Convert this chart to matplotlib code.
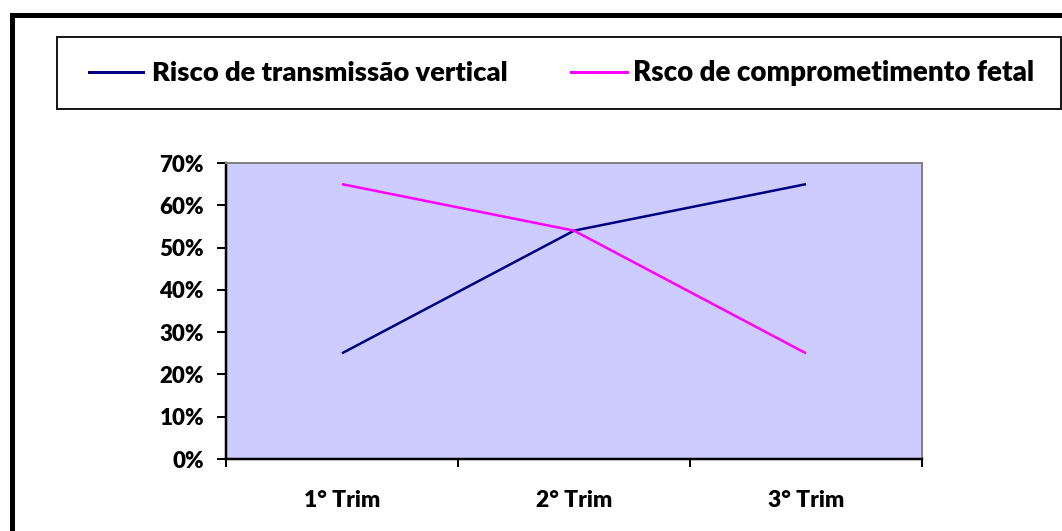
import matplotlib
matplotlib.use("Agg")
import matplotlib.pyplot as plt
from matplotlib.lines import Line2D
from matplotlib.patches import Rectangle
from matplotlib.ticker import FixedLocator, PercentFormatter, NullFormatter

categories = ["1° Trim", "2° Trim", "3° Trim"]
series_names = ["Risco de transmissão vertical", "Rsco de comprometimento fetal"]
transmissao = [0.25, 0.54, 0.65]
comprometimento = [0.65, 0.54, 0.25]
series_colors = ["#000080", "#FF00FF"]
y_ticks = [0.0, 0.1, 0.2, 0.3, 0.4, 0.5, 0.6, 0.7]

W, H = 1062, 531
DPI = 100
plt.rcParams['font.family'] = ['Lato', 'DejaVu Sans']
plt.rcParams['font.weight'] = 'heavy'

fig = plt.figure(figsize=(W / DPI, H / DPI), dpi=DPI)
fig.patch.set_facecolor("white")

def fx(px):
    return px / W

def fy(py):
    return 1 - py / H

px2pt = 72 / DPI

# outer border (top and left visible)
fig.add_artist(Rectangle((fx(11.5), fy(H + 20)), fx(W + 20), (H + 20 - 14.5) / H,
                         transform=fig.transFigure, fill=False, edgecolor="black",
                         linewidth=5 * px2pt, clip_on=False))

# legend box
fig.add_artist(Rectangle((fx(56.5), fy(108.5)), fx(1060.5 - 56.5), (108.5 - 37.5) / H,
                         transform=fig.transFigure, fill=False, edgecolor="#1a1a1a",
                         linewidth=2 * px2pt))

# axes
left, right, top, bottom = 226, 922, 163, 459
ax = fig.add_axes([fx(left), fy(bottom), fx(right - left), (bottom - top) / H])
ax.set_facecolor("#CCCCFF")

xs = list(range(len(categories)))
l1, = ax.plot(xs, transmissao, color=series_colors[0], lw=2.5 * px2pt, solid_capstyle="butt")
l2, = ax.plot(xs, comprometimento, color=series_colors[1], lw=2.5 * px2pt, solid_capstyle="butt")

ax.set_xlim(-0.5, len(categories) - 0.5)
ax.set_ylim(0, 0.7)

ax.xaxis.set_major_locator(FixedLocator([i - 0.5 for i in range(len(categories) + 1)]))
ax.xaxis.set_major_formatter(NullFormatter())
ax.xaxis.set_minor_locator(FixedLocator(xs))
ax.set_xticklabels(categories, minor=True)
ax.tick_params(axis="x", which="major", direction="out", length=8 * px2pt, width=2 * px2pt, color="black")
ax.tick_params(axis="x", which="minor", length=0, pad=31 * px2pt, labelsize=16.5)

ax.set_yticks(y_ticks)
ax.yaxis.set_major_formatter(PercentFormatter(1.0, decimals=0))
ax.tick_params(axis="y", direction="out", length=9 * px2pt, width=2 * px2pt, color="black",
               pad=13 * px2pt, labelsize=16)

for lab in ax.get_xticklabels(minor=True) + ax.get_yticklabels():
    lab.set_fontweight("heavy")

ax.spines["left"].set_color("black")
ax.spines["bottom"].set_color("black")
ax.spines["left"].set_linewidth(2.5 * px2pt)
ax.spines["bottom"].set_linewidth(2.5 * px2pt)
ax.spines["top"].set_color("#808080")
ax.spines["right"].set_color("#808080")
ax.spines["top"].set_linewidth(2 * px2pt)
ax.spines["right"].set_linewidth(2 * px2pt)

# legend entries (manual)
leg_y = 72
entries = [(l1, series_names[0], 89, 143, 152, 508), (l2, series_names[1], 571, 627, 633, 1032)]
fig.canvas.draw()
renderer = fig.canvas.get_renderer()
for line, name, x0, x1, tx0, tx1 in entries:
    fig.add_artist(Line2D([fx(x0), fx(x1)], [fy(leg_y), fy(leg_y)], transform=fig.transFigure,
                          color=line.get_color(), lw=3 * px2pt))
    t = fig.text(fx(tx0), fy(leg_y + 1), name, fontsize=16, fontweight="heavy",
                 ha="left", va="center", color="black")
    bb = t.get_window_extent(renderer)
    t.set_fontsize(16 * (tx1 - tx0) / bb.width)

fig.savefig("out.png", dpi=DPI, facecolor="white")
